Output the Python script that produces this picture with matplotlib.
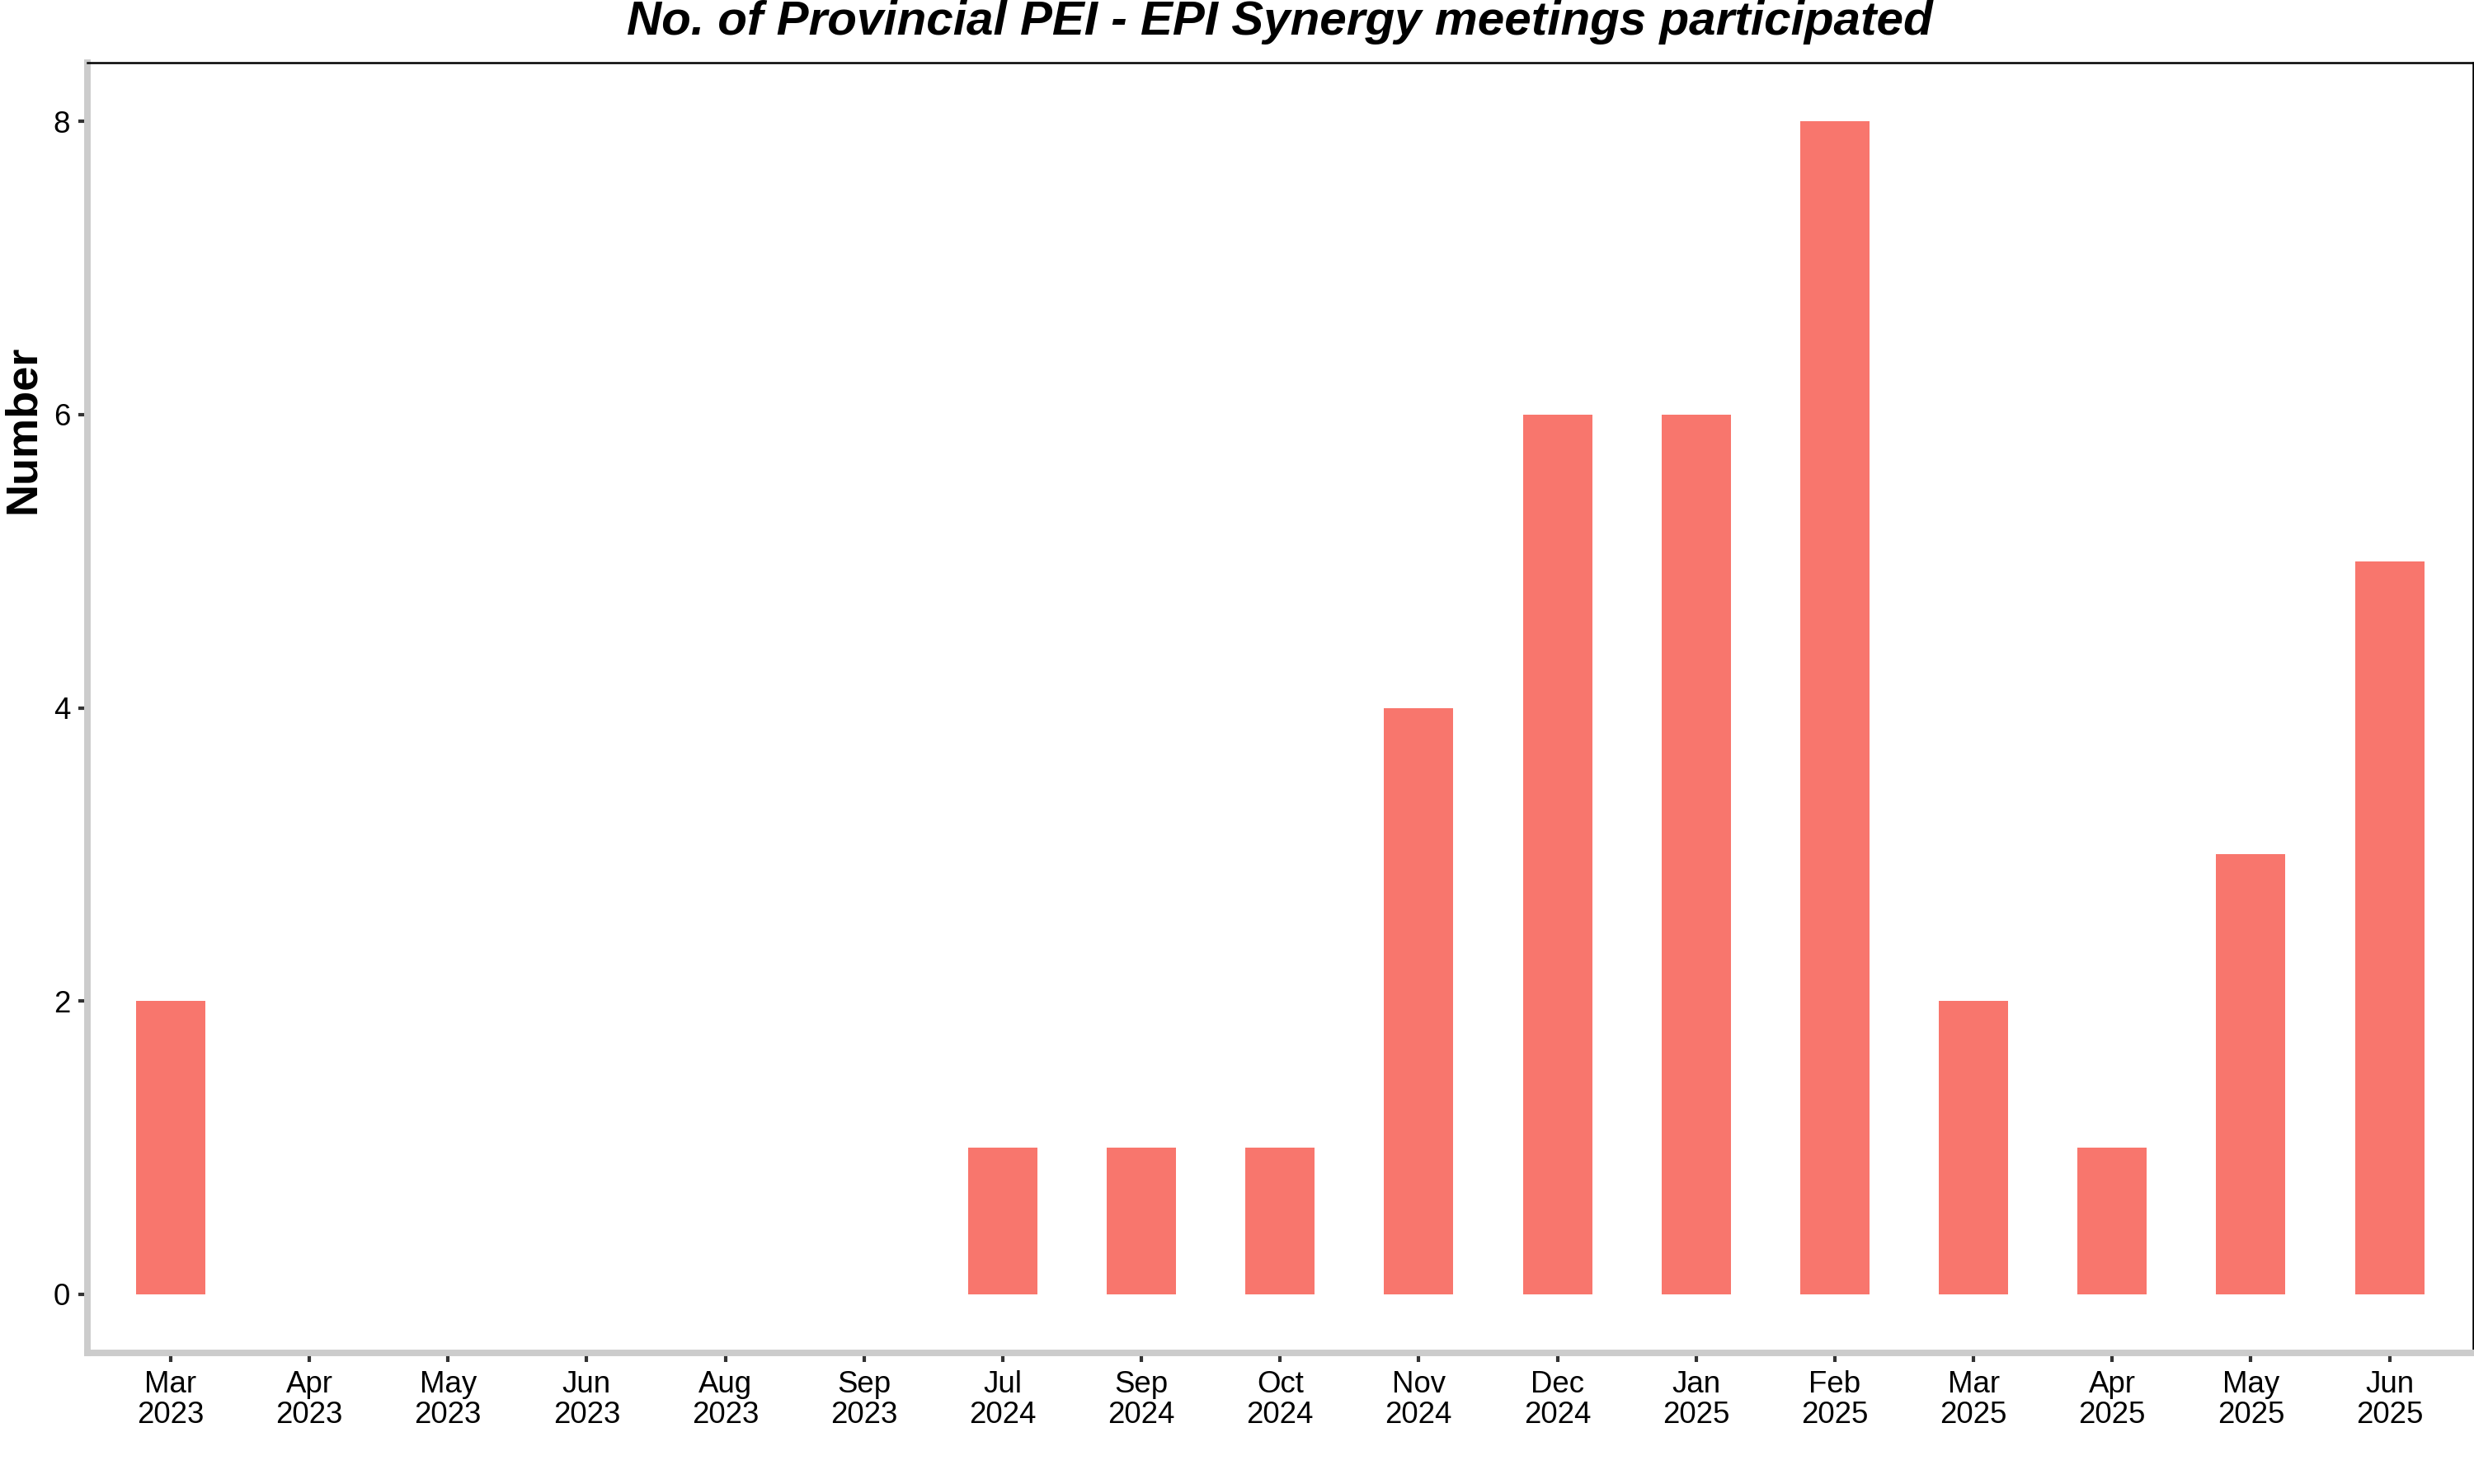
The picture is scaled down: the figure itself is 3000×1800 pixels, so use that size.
import numpy as np
import matplotlib
matplotlib.use('Agg')
import matplotlib.pyplot as plt

plt.rcParams['font.family'] = ['Liberation Sans', 'DejaVu Sans']

# Meetings per month
months = ['Mar\n2023', 'Apr\n2023', 'May\n2023', 'Jun\n2023', 'Aug\n2023', 'Sep\n2023',
          'Jul\n2024', 'Sep\n2024', 'Oct\n2024', 'Nov\n2024', 'Dec\n2024', 'Jan\n2025',
          'Feb\n2025', 'Mar\n2025', 'Apr\n2025', 'May\n2025', 'Jun\n2025']
meetings = [2, 0, 0, 0, 0, 0, 1, 1, 1, 4, 6, 6, 8, 2, 1, 3, 5]
yticks = [0, 2, 4, 6, 8]

fig = plt.figure(figsize=(10, 6), dpi=300)
ax = fig.add_axes([0.0353, 0.0883, 0.9642, 0.8695])

x = np.arange(len(months))
ax.bar(x, meetings, width=0.5, color='#F8766D', edgecolor='none')

ax.set_xlim(-0.6, len(months) - 0.4)
ax.set_ylim(-0.4, 8.4)
ax.set_xticks(x)
ax.set_xticklabels(months, fontsize=8.8, color='black', linespacing=1.1)
ax.set_yticks(yticks)
ax.set_yticklabels([str(v) for v in yticks], fontsize=8.8, color='black')
ax.tick_params(axis='both', direction='out', length=2.75, width=1.0, color='#333333', pad=2.2)

for side in ['left', 'bottom']:
    ax.spines[side].set_color('#CCCCCC')
    ax.spines[side].set_linewidth(1.9)
for side in ['top', 'right']:
    ax.spines[side].set_color('black')
    ax.spines[side].set_linewidth(0.6)

fig.text(1552 / 3000, 1 - 42 / 1800, 'No. of Provincial PEI - EPI Synergy meetings participated',
         ha='center', va='baseline', fontsize=14, fontweight='bold', fontstyle='italic')
fig.text(42 / 3000, 1 - 521 / 1800, 'Number', rotation=90, rotation_mode='anchor',
         ha='center', va='baseline', fontsize=13, fontweight='bold')

fig.savefig('out.png', dpi=300)
